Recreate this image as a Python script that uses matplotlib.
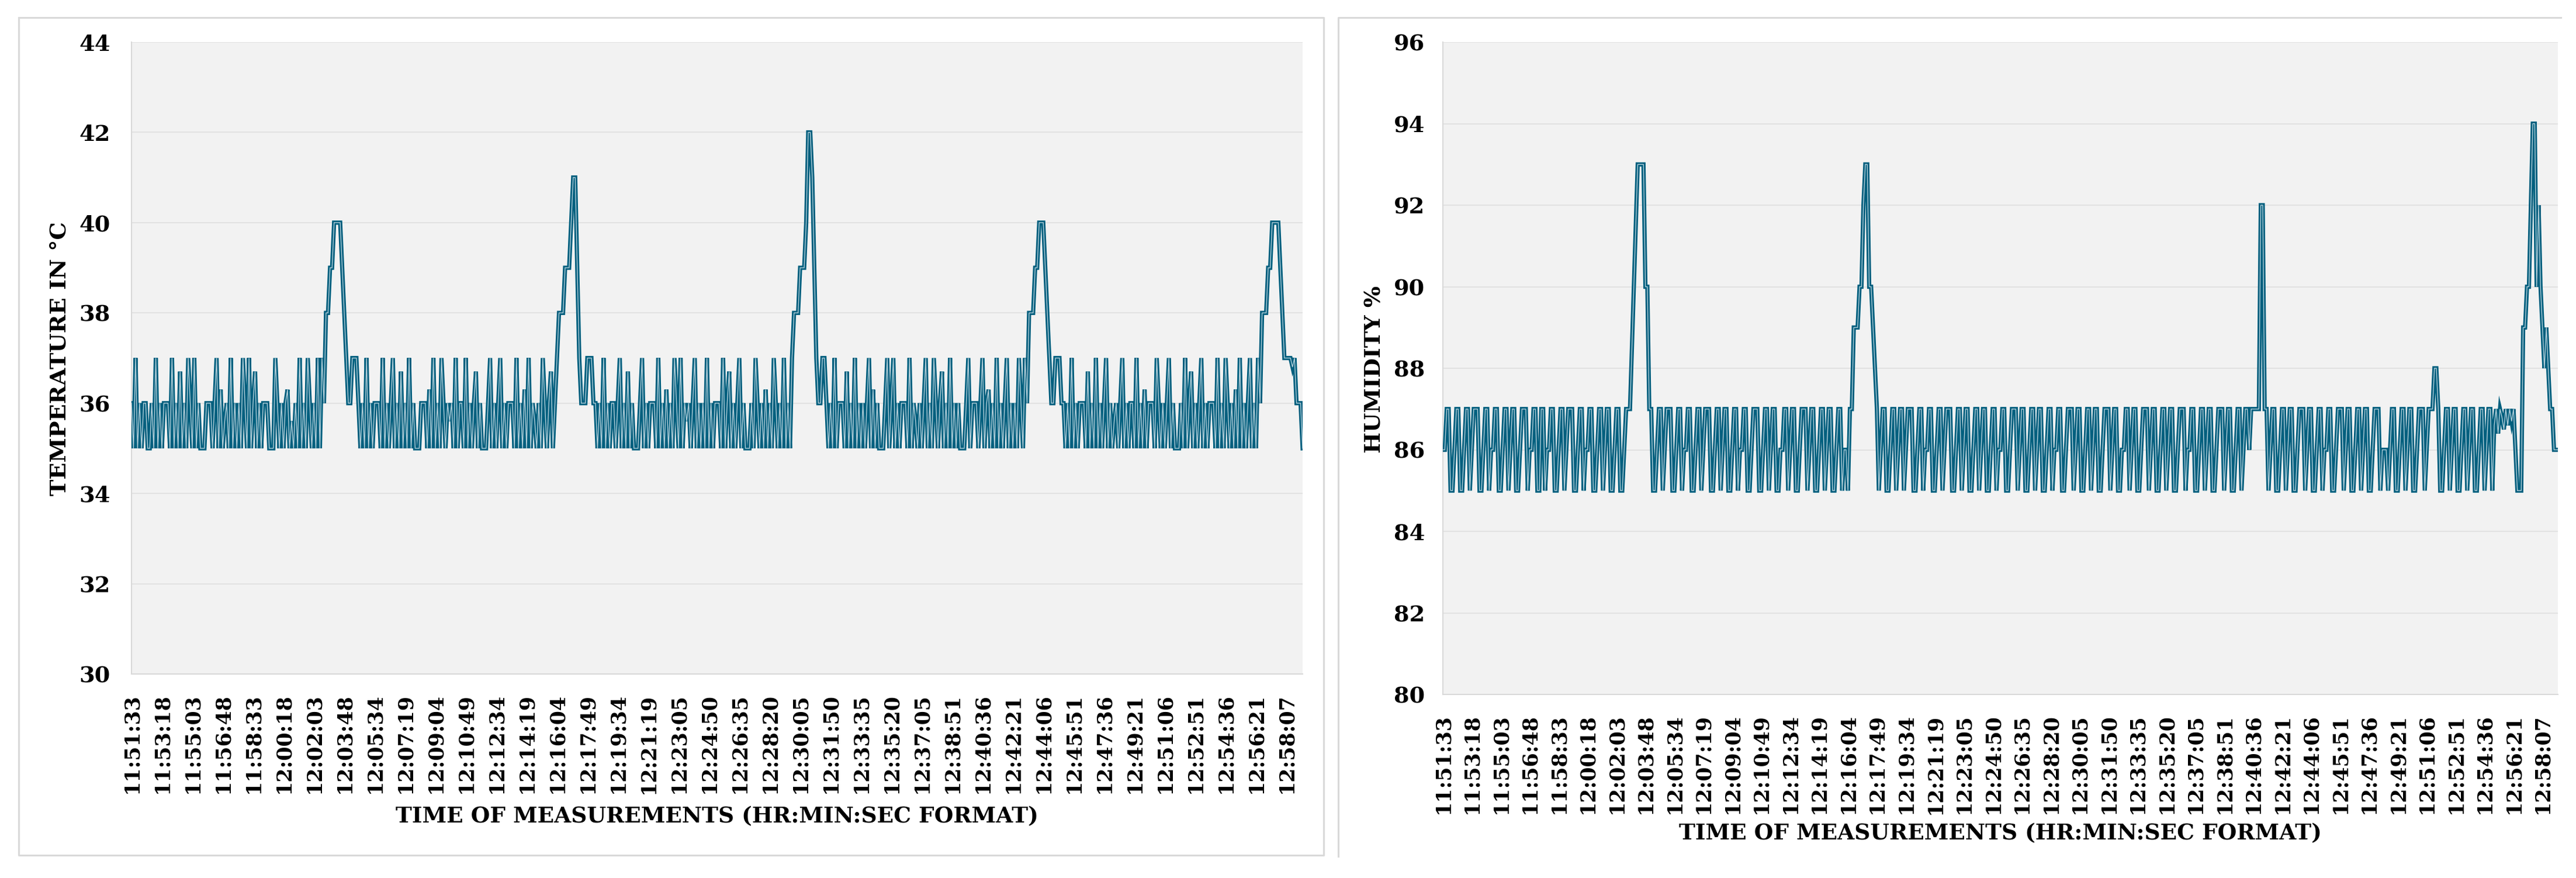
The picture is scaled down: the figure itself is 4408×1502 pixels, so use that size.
import matplotlib.pyplot as plt
from matplotlib.lines import Line2D

# category labels shown on the x axis (one every 15 readings)
time_labels = ['11:51:33', '11:53:18', '11:55:03', '11:56:48', '11:58:33', '12:00:18',
               '12:02:03', '12:03:48', '12:05:34', '12:07:19', '12:09:04', '12:10:49',
               '12:12:34', '12:14:19', '12:16:04', '12:17:49', '12:19:34', '12:21:19',
               '12:23:05', '12:24:50', '12:26:35', '12:28:20', '12:30:05', '12:31:50',
               '12:33:35', '12:35:20', '12:37:05', '12:38:51', '12:40:36', '12:42:21',
               '12:44:06', '12:45:51', '12:47:36', '12:49:21', '12:51:06', '12:52:51',
               '12:54:36', '12:56:21', '12:58:07']

# temperature readings (deg C), 15 per label
temperature = [
    36, 35, 37, 35, 36, 35, 36, 36, 35, 35, 36, 35, 37, 35, 36,
    35, 36, 36, 36, 35, 37, 35, 36, 35, 36.7, 35, 36, 35, 37, 36,
    35, 37, 35, 36, 35, 35, 35, 36, 36, 36, 35, 36, 37, 35, 36.3,
    35, 35.6, 36, 35, 37, 35, 36, 35, 36, 35, 37, 36, 35, 37, 35,
    36, 36.7, 35, 36, 35, 36, 36, 36, 35, 35, 35, 37, 36, 35, 36,
    35, 36, 36.3, 35, 35.6, 35, 36, 35, 37, 35, 36, 35, 37, 36, 35,
    36, 35, 37, 35, 37, 36, 38, 38, 39, 39, 40, 40, 40, 40, 39,
    38, 37, 36, 36, 37, 37, 37, 36, 35, 36, 35, 37, 35, 36, 35,
    36, 36, 36, 35, 37, 35, 36, 35, 36, 37, 35, 36, 35, 36.7, 35,
    36, 35, 37, 35, 36, 35, 35, 35, 36, 36, 36, 35, 36.3, 35, 37,
    35, 36, 35, 37, 36, 35, 36, 35.6, 36, 35, 37, 35, 36, 36, 35,
    37, 35, 36, 35, 36, 36.7, 35, 36, 35, 35, 35, 36, 37, 35, 36,
    35, 36, 37, 35, 36, 35, 36, 36, 36, 35, 37, 35, 36, 35, 36.3,
    35, 37, 35, 36, 35.6, 35, 36, 35, 37, 36, 35, 36, 36.7, 35, 36,
    37, 38, 38, 38, 39, 39, 39, 40, 41, 41, 39, 37, 36, 36, 36,
    37, 37, 37, 36, 36, 35, 36, 35, 37, 35, 36, 35, 36, 36, 35,
    36, 37, 35, 36, 35, 36.7, 35, 36, 35, 35, 35, 36, 37, 35, 36,
    35, 36, 36, 36, 35, 37, 35, 36, 35, 36.3, 35, 36, 35, 37, 36,
    35, 37, 35, 36, 35.6, 36, 35, 36, 37, 35, 36, 35, 36, 35, 37,
    35, 36, 35, 36, 36, 36, 35, 37, 35, 36, 36.7, 35, 36, 35, 36,
    37, 35, 36, 35, 35, 35, 36, 35, 37, 36, 35, 36, 35, 36.3, 35,
    36, 35, 37, 36, 35, 36, 35, 37, 35, 36, 35, 37, 38, 38, 38,
    39, 39, 39, 40, 42, 42, 41, 39, 37, 36, 36, 37, 37, 36, 35,
    36, 35, 37, 35, 36, 36, 36, 35, 36.7, 35, 36, 35, 37, 35, 36,
    35, 36, 35, 36, 37, 35, 36.3, 35, 36, 35, 35, 35, 36, 37, 35,
    36, 37, 35, 36, 35, 36, 36, 36, 35, 37, 35, 36, 35.6, 35, 36,
    35, 36, 37, 35, 36, 35, 37, 36, 35, 36, 36.7, 35, 36, 35, 37,
    35, 36, 35, 36, 35, 35, 35, 36, 37, 35, 36, 36, 36, 35, 36,
    37, 35, 36, 36.3, 35, 36, 35, 37, 35, 36, 35, 36, 37, 35, 36,
    35, 36, 35, 37, 36, 35, 37, 36, 38, 38, 38, 39, 39, 40, 40,
    40, 39, 38, 37, 36, 36, 37, 37, 37, 36, 36, 35, 36, 35, 37,
    35, 36, 35, 36, 36, 36, 35, 36.7, 35, 36, 35, 37, 35, 36, 35,
    36, 37, 35, 36, 35, 35.6, 36, 35, 36, 37, 35, 36, 35, 36, 36,
    35, 37, 35, 36, 35, 36.3, 35, 36, 36, 36, 35, 37, 36, 35, 36,
    35, 36, 37, 35, 36, 35, 35, 35, 36, 35, 37, 35, 36, 36.7, 35,
    36, 35, 36, 37, 35, 36, 35, 36, 36, 36, 35, 37, 35, 36, 35,
    37, 36, 35, 36, 35, 36.3, 35, 37, 35, 36, 35, 36, 37, 35, 36,
    35, 37, 36, 38, 38, 38, 39, 39, 40, 40, 40, 40, 39, 38, 37,
    37, 37, 37, 36.8, 37, 36, 36, 36, 35,
]

# humidity readings (%), same time base
humidity = [
    86, 86, 87, 87, 85, 85, 86, 87, 87, 85, 85, 86, 87, 87, 85,
    86, 87, 87, 87, 85, 85, 86, 87, 87, 85, 86, 86, 87, 87, 85,
    85, 86, 87, 87, 85, 86, 87, 87, 85, 85, 86, 87, 87, 87, 85,
    86, 86, 87, 87, 85, 85, 87, 87, 85, 86, 86, 87, 87, 85, 85,
    86, 87, 87, 85, 86, 87, 87, 87, 85, 85, 86, 87, 87, 85, 86,
    86, 87, 87, 85, 85, 86, 87, 87, 85, 86, 87, 87, 85, 85, 86,
    87, 87, 85, 85, 86, 87, 87, 87, 88.5, 90, 91.5, 93, 93, 93, 93,
    90, 90, 87, 87, 85, 85, 86, 87, 87, 85, 86, 87, 87, 87, 85,
    85, 86, 87, 87, 85, 86, 86, 87, 87, 85, 85, 86, 87, 87, 85,
    86, 87, 87, 87, 85, 85, 86, 87, 87, 85, 86, 87, 87, 85, 85,
    86, 87, 87, 85, 86, 86, 87, 87, 85, 85, 86, 87, 87, 87, 85,
    85, 86, 87, 87, 85, 86, 87, 87, 85, 85, 86, 86, 87, 87, 85,
    86, 87, 87, 85, 85, 86, 87, 87, 87, 85, 86, 87, 87, 85, 85,
    86, 87, 87, 85, 86, 87, 87, 85, 85, 86, 87, 87, 85, 86, 86,
    85, 87, 87, 89, 89, 89, 90, 90, 92, 93, 93, 90, 90, 89, 88,
    87, 85, 86, 87, 87, 85, 85, 86, 87, 87, 85, 86, 87, 87, 85,
    86, 87, 87, 87, 85, 85, 86, 87, 87, 85, 86, 86, 87, 87, 85,
    85, 86, 87, 87, 85, 86, 87, 87, 87, 85, 85, 86, 87, 87, 85,
    86, 87, 87, 85, 85, 86, 87, 87, 85, 86, 87, 87, 85, 85, 86,
    87, 87, 85, 86, 86, 87, 87, 85, 85, 86, 87, 87, 87, 85, 86,
    87, 87, 85, 85, 86, 87, 87, 85, 86, 87, 87, 85, 85, 86, 87,
    87, 85, 86, 86, 87, 87, 85, 85, 86, 87, 87, 87, 85, 86, 87,
    87, 85, 85, 86, 87, 87, 85, 86, 87, 87, 85, 85, 86, 87, 87,
    87, 85, 86, 87, 87, 85, 85, 86, 86, 87, 87, 85, 86, 87, 87,
    85, 85, 86, 87, 87, 87, 85, 86, 87, 87, 85, 85, 86, 87, 87,
    85, 86, 87, 87, 85, 85, 86, 87, 87, 87, 85, 86, 86, 87, 87,
    85, 85, 86, 87, 87, 85, 86, 87, 87, 85, 85, 86, 87, 87, 87,
    85, 86, 87, 87, 85, 85, 86, 87, 87, 85, 86, 87, 87, 86, 87,
    87, 87, 87, 87, 92, 92, 87, 87, 85, 86, 87, 87, 85, 85, 86,
    87, 87, 85, 86, 87, 87, 85, 85, 86, 87, 87, 87, 85, 86, 87,
    87, 85, 85, 86, 87, 87, 85, 86, 86, 87, 87, 85, 85, 86, 87,
    87, 87, 85, 86, 87, 87, 85, 85, 86, 87, 87, 85, 86, 87, 87,
    85, 85, 86, 87, 87, 87, 85, 86, 86, 86, 85, 86, 87, 87, 85,
    85, 86, 87, 87, 85, 86, 87, 87, 85, 85, 86, 87, 87, 87, 85,
    86, 87, 87, 87, 88, 88, 87, 85, 85, 86, 87, 87, 85, 86, 87,
    87, 85, 85, 86, 87, 87, 85, 86, 87, 87, 85, 85, 86, 87, 87,
    85, 86, 87, 87, 85, 86.6, 87, 86.4, 87, 86.8, 86.5, 87, 86.6, 87, 86.7,
    87, 86, 85, 85, 85, 89, 89, 90, 90, 92, 94, 94, 90, 92, 90,
    89, 88, 89, 88, 87, 87, 86, 86, 86,
]

W, H = 4408, 1502
LINE = '#005f7e'
INNER = '#b3ced9'
BORDER = '#d9d9d9'

plt.rcParams['font.family'] = ['DejaVu Serif']
plt.rcParams['font.weight'] = 'bold'

fig = plt.figure(figsize=(W / 100, H / 100), dpi=100)


def px_rect(x0, y0, x1, y1):
    # pixel box (top-left origin) -> figure fraction
    return [x0 / W, 1 - y1 / H, (x1 - x0) / W, (y1 - y0) / H]


def draw(ax, values, lo, hi, ypad):
    ax.set_facecolor('#f2f2f2')
    x = range(len(values))
    ax.plot(x, values, color=LINE, lw=5.2, solid_joinstyle='miter', zorder=3)
    ax.plot(x, values, color=INNER, lw=1.0, solid_joinstyle='miter', zorder=4)
    ax.set_xlim(0, len(values) - 1)
    ax.set_ylim(lo, hi)
    ax.set_yticks(range(lo, hi + 1, 2))
    ax.set_xticks(range(0, len(values), 15))
    ax.set_xticklabels(time_labels, rotation=90, fontsize=25, fontweight='bold')
    ax.tick_params(axis='x', length=0, pad=24)
    ax.tick_params(axis='y', length=0, pad=ypad, labelsize=27.5)
    ax.grid(axis='y', color='#e2e2e2', lw=1.5)
    ax.set_axisbelow(True)
    for s in ['top', 'right']:
        ax.spines[s].set_visible(False)
    for s in ['left', 'bottom']:
        ax.spines[s].set_color(BORDER)
        ax.spines[s].set_linewidth(1.5)


ax1 = fig.add_axes(px_rect(225, 72, 2229, 1153))
draw(ax1, temperature, 30, 44, 26)
ax2 = fig.add_axes(px_rect(2469, 72, 4377, 1188))
draw(ax2, humidity, 80, 96, 22)

fig.text(102 / W, 1 - 614 / H, 'TEMPERATURE IN °C', rotation=90, ha='center', va='center',
         fontsize=27.5, fontweight='bold')
fig.text(2352 / W, 1 - 632 / H, 'HUMIDITY %', rotation=90, ha='center', va='center',
         fontsize=27.5, fontweight='bold')
fig.text(1227 / W, 1 - 1397 / H, 'TIME OF MEASUREMENTS (HR:MIN:SEC FORMAT)',
         ha='center', va='center', fontsize=27, fontweight='bold')
fig.text(3423 / W, 1 - 1426 / H, 'TIME OF MEASUREMENTS (HR:MIN:SEC FORMAT)',
         ha='center', va='center', fontsize=27, fontweight='bold')


# chart frames
def frame(xs, ys):
    fig.add_artist(Line2D([v / W for v in xs], [1 - v / H for v in ys],
                          color=BORDER, lw=2.2, transform=fig.transFigure))


frame([32, 2265, 2265, 32, 32], [30, 30, 1463, 1463, 30])
frame([2290, 2290, 4382], [1465, 30, 30])

fig.savefig('out.png', dpi=100)
